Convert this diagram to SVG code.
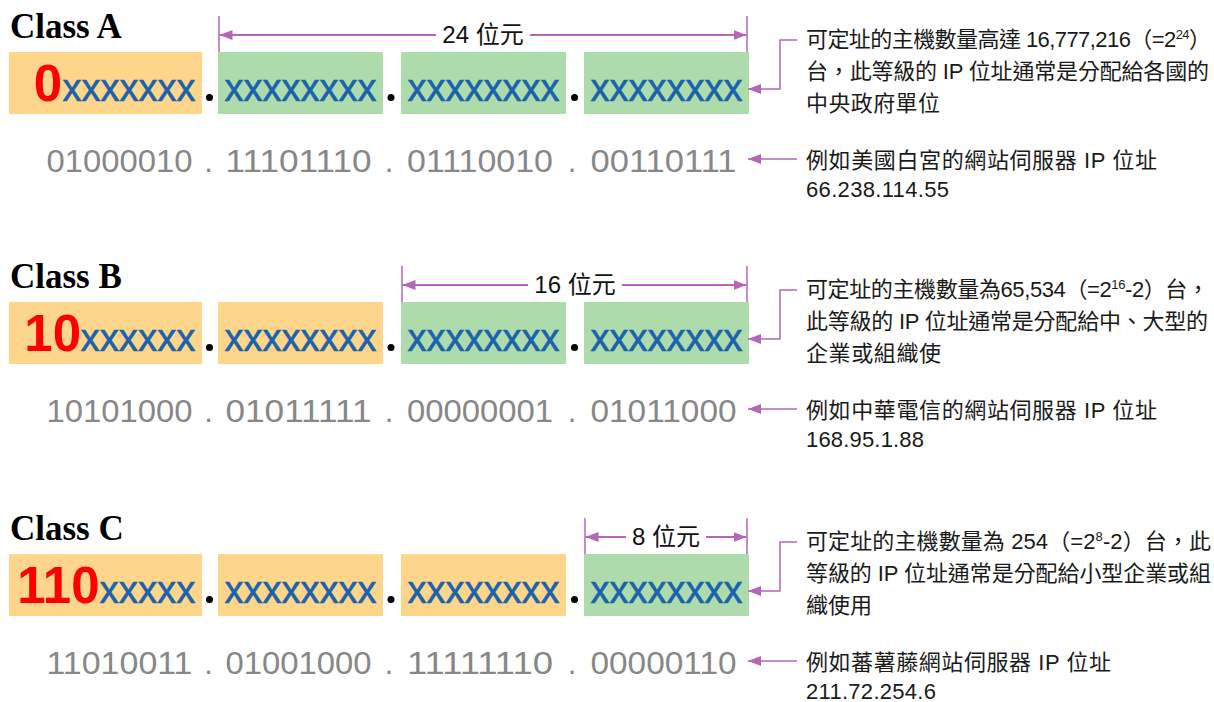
<svg xmlns="http://www.w3.org/2000/svg" width="1214" height="702" viewBox="0 0 1214 702">
<defs>
<style>
.title{font-family:"Liberation Serif","Times New Roman",serif;font-weight:bold;font-size:35px;fill:#000}
.or{fill:#FDD58B}
.gr{fill:#ADDBAC}
.red{font-family:"Liberation Sans",Arial,sans-serif;font-weight:bold;font-size:51px;fill:#FF0000}
.bx{font-family:"Liberation Sans",Arial,sans-serif;font-size:39px;fill:#1A62AC;stroke:#1A62AC;stroke-width:0.6}
.bin{font-family:"Liberation Sans",Arial,sans-serif;font-size:31px;fill:#878787}
.lbl{font-family:"Liberation Sans","Noto Sans CJK TC",sans-serif;font-size:24px;fill:#111}
.note{font-family:"Liberation Sans","Noto Sans CJK TC",sans-serif;font-size:22px;fill:#1a1a1a}
.ln{fill:none;stroke:#B566B8;stroke-width:2}
.tk{fill:none;stroke:#B566B8;stroke-width:1.5}
.dot{fill:#000}
</style>
<marker id="ah" markerUnits="userSpaceOnUse" markerWidth="13" markerHeight="10" refX="13" refY="5" orient="auto">
<path d="M0,0 L13,5 L0,10 z" fill="#B566B8"/>
</marker>
</defs>
<rect width="1214" height="702" fill="#fff"/>

<!-- Class A -->
<g id="classA">
<text class="title" x="10" y="38">Class A</text>
<g id="a-box1"><rect class="or" x="9" y="52" width="193" height="62"/><text class="red" x="62" y="100.5" text-anchor="end">0</text><text class="bx" x="62.5" y="100.5" textLength="133" lengthAdjust="spacingAndGlyphs">xxxxxxx</text></g>
<g id="a-box2"><rect class="gr" x="218" y="52" width="165" height="62"/><text class="bx" x="224.5" y="100.5" textLength="152" lengthAdjust="spacingAndGlyphs">xxxxxxxx</text></g>
<g id="a-box3"><rect class="gr" x="401" y="52" width="165" height="62"/><text class="bx" x="407.5" y="100.5" textLength="152" lengthAdjust="spacingAndGlyphs">xxxxxxxx</text></g>
<g id="a-box4"><rect class="gr" x="584" y="52" width="165" height="62"/><text class="bx" x="590.5" y="100.5" textLength="152" lengthAdjust="spacingAndGlyphs">xxxxxxxx</text></g>
<circle class="dot" cx="209.5" cy="97.5" r="3.5"/><circle class="dot" cx="391" cy="97.5" r="3.5"/><circle class="dot" cx="574.5" cy="97.5" r="3.5"/>
<g id="a-bin"><text class="bin" x="46.5" y="172" textLength="146" lengthAdjust="spacingAndGlyphs">01000010</text><text class="bin" x="208.5" y="172" text-anchor="middle">.</text><text class="bin" x="225.5" y="172" textLength="146" lengthAdjust="spacingAndGlyphs">11101110</text><text class="bin" x="389" y="172" text-anchor="middle">.</text><text class="bin" x="407" y="172" textLength="146" lengthAdjust="spacingAndGlyphs">01110010</text><text class="bin" x="572" y="172" text-anchor="middle">.</text><text class="bin" x="590.5" y="172" textLength="146" lengthAdjust="spacingAndGlyphs">00110111</text></g>
<g id="a-label"><text class="lbl" x="483" y="43" text-anchor="middle">24 位元</text></g>
<g id="a-note1"><text class="note" x="806" y="46.5" textLength="405">可定址的主機數量高達 16,777,216（=2<tspan font-size="13" dy="-8">24</tspan><tspan dy="8">）</tspan></text><text class="note" x="806" y="78.5" textLength="403">台，此等級的 IP 位址通常是分配給各國的</text><text class="note" x="806" y="110.5" textLength="134">中央政府單位</text></g>
<g id="a-note2"><text class="note" x="806" y="167.5" textLength="351">例如美國白宮的網站伺服器 IP 位址</text><text class="note" x="806" y="196.5" textLength="143">66.238.114.55</text></g>
</g>

<!-- Class B -->
<g id="classB">
<text class="title" x="10" y="288">Class B</text>
<g id="b-box1"><rect class="or" x="9" y="302" width="193" height="62"/><text class="red" x="81" y="350.5" text-anchor="end">10</text><text class="bx" x="80.5" y="350.5" textLength="115" lengthAdjust="spacingAndGlyphs">xxxxxx</text></g>
<g id="b-box2"><rect class="or" x="218" y="302" width="165" height="62"/><text class="bx" x="224.5" y="350.5" textLength="152" lengthAdjust="spacingAndGlyphs">xxxxxxxx</text></g>
<g id="b-box3"><rect class="gr" x="401" y="302" width="165" height="62"/><text class="bx" x="407.5" y="350.5" textLength="152" lengthAdjust="spacingAndGlyphs">xxxxxxxx</text></g>
<g id="b-box4"><rect class="gr" x="584" y="302" width="165" height="62"/><text class="bx" x="590.5" y="350.5" textLength="152" lengthAdjust="spacingAndGlyphs">xxxxxxxx</text></g>
<circle class="dot" cx="209.5" cy="347.5" r="3.5"/><circle class="dot" cx="391" cy="347.5" r="3.5"/><circle class="dot" cx="574.5" cy="347.5" r="3.5"/>
<g id="b-bin"><text class="bin" x="46.5" y="422" textLength="146" lengthAdjust="spacingAndGlyphs">10101000</text><text class="bin" x="208.5" y="422" text-anchor="middle">.</text><text class="bin" x="225.5" y="422" textLength="146" lengthAdjust="spacingAndGlyphs">01011111</text><text class="bin" x="389" y="422" text-anchor="middle">.</text><text class="bin" x="407" y="422" textLength="146" lengthAdjust="spacingAndGlyphs">00000001</text><text class="bin" x="572" y="422" text-anchor="middle">.</text><text class="bin" x="590.5" y="422" textLength="146" lengthAdjust="spacingAndGlyphs">01011000</text></g>
<g id="b-label"><text class="lbl" x="575" y="293" text-anchor="middle">16 位元</text></g>
<g id="b-note1"><text class="note" x="806" y="296.5" textLength="403">可定址的主機數量為65,534（=2<tspan font-size="13" dy="-8">16</tspan><tspan dy="8">-2）台，</tspan></text><text class="note" x="806" y="328.5" textLength="402">此等級的 IP 位址通常是分配給中、大型的</text><text class="note" x="806" y="360.5" textLength="135">企業或組織使</text></g>
<g id="b-note2"><text class="note" x="806" y="417.5" textLength="351">例如中華電信的網站伺服器 IP 位址</text><text class="note" x="806" y="446.5" textLength="118">168.95.1.88</text></g>
</g>

<!-- Class C -->
<g id="classC">
<text class="title" x="10" y="540">Class C</text>
<g id="c-box1"><rect class="or" x="9" y="554" width="193" height="62"/><text class="red" x="99.5" y="602.5" text-anchor="end">110</text><text class="bx" x="99.5" y="602.5" textLength="96" lengthAdjust="spacingAndGlyphs">xxxxx</text></g>
<g id="c-box2"><rect class="or" x="218" y="554" width="165" height="62"/><text class="bx" x="224.5" y="602.5" textLength="152" lengthAdjust="spacingAndGlyphs">xxxxxxxx</text></g>
<g id="c-box3"><rect class="or" x="401" y="554" width="165" height="62"/><text class="bx" x="407.5" y="602.5" textLength="152" lengthAdjust="spacingAndGlyphs">xxxxxxxx</text></g>
<g id="c-box4"><rect class="gr" x="584" y="554" width="165" height="62"/><text class="bx" x="590.5" y="602.5" textLength="152" lengthAdjust="spacingAndGlyphs">xxxxxxxx</text></g>
<circle class="dot" cx="209.5" cy="599.5" r="3.5"/><circle class="dot" cx="391" cy="599.5" r="3.5"/><circle class="dot" cx="574.5" cy="599.5" r="3.5"/>
<g id="c-bin"><text class="bin" x="46.5" y="674" textLength="146" lengthAdjust="spacingAndGlyphs">11010011</text><text class="bin" x="208.5" y="674" text-anchor="middle">.</text><text class="bin" x="225.5" y="674" textLength="146" lengthAdjust="spacingAndGlyphs">01001000</text><text class="bin" x="389" y="674" text-anchor="middle">.</text><text class="bin" x="407" y="674" textLength="146" lengthAdjust="spacingAndGlyphs">11111110</text><text class="bin" x="572" y="674" text-anchor="middle">.</text><text class="bin" x="590.5" y="674" textLength="146" lengthAdjust="spacingAndGlyphs">00000110</text></g>
<g id="c-label"><text class="lbl" x="666" y="545" text-anchor="middle">8 位元</text></g>
<g id="c-note1"><text class="note" x="806" y="548.5" textLength="405">可定址的主機數量為 254（=2<tspan font-size="13" dy="-8">8</tspan><tspan dy="8">-2）台，此</tspan></text><text class="note" x="806" y="580.5" textLength="405">等級的 IP 位址通常是分配給小型企業或組</text><text class="note" x="806" y="612.5" textLength="66">織使用</text></g>
<g id="c-note2"><text class="note" x="806" y="669.5" textLength="305">例如蕃薯藤網站伺服器 IP 位址</text><text class="note" x="806" y="698.5" textLength="130">211.72.254.6</text></g>
</g>

<!-- Connectors -->
<g id="connectors">
<line class="tk" x1="219" y1="16" x2="219" y2="52"/><line class="tk" x1="747" y1="16" x2="747" y2="52"/>
<line class="ln" x1="436" y1="35" x2="219.5" y2="35" marker-end="url(#ah)"/>
<line class="ln" x1="530" y1="35" x2="746.5" y2="35" marker-end="url(#ah)"/>
<polyline class="tk" points="797,40 780,40 780,89 748,89" marker-end="url(#ah)"/>
<line class="tk" x1="797" y1="159" x2="748" y2="159" marker-end="url(#ah)"/>
<line class="tk" x1="402" y1="266" x2="402" y2="302"/><line class="tk" x1="747" y1="266" x2="747" y2="302"/>
<line class="ln" x1="528" y1="285" x2="402.5" y2="285" marker-end="url(#ah)"/>
<line class="ln" x1="622" y1="285" x2="746.5" y2="285" marker-end="url(#ah)"/>
<polyline class="tk" points="797,290 780,290 780,339 748,339" marker-end="url(#ah)"/>
<line class="tk" x1="797" y1="409" x2="748" y2="409" marker-end="url(#ah)"/>
<line class="tk" x1="585" y1="518" x2="585" y2="554"/><line class="tk" x1="747" y1="518" x2="747" y2="554"/>
<line class="ln" x1="626" y1="537" x2="585.5" y2="537" marker-end="url(#ah)"/>
<line class="ln" x1="706" y1="537" x2="746.5" y2="537" marker-end="url(#ah)"/>
<polyline class="tk" points="797,542 780,542 780,591 748,591" marker-end="url(#ah)"/>
<line class="tk" x1="797" y1="661" x2="748" y2="661" marker-end="url(#ah)"/>
</g>
</svg>
